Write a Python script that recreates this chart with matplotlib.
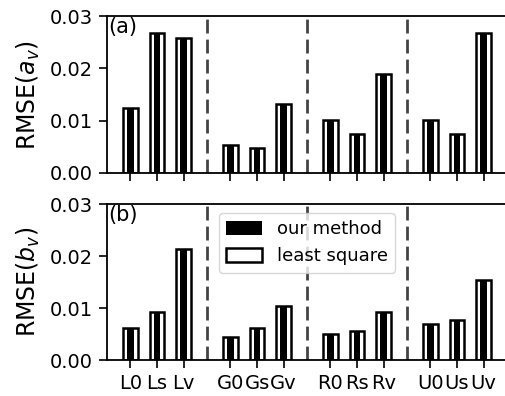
import numpy as np
import matplotlib
matplotlib.use("Agg")
import matplotlib.pyplot as plt

labels = ["L0", "Ls", "Lv", "G0", "Gs", "Gv", "R0", "Rs", "Rv", "U0", "Us", "Uv"]

# RMSE of a_v
a_ours = [0.0125, 0.0267, 0.0258, 0.0054, 0.0048, 0.0131, 0.0101, 0.0075, 0.0190, 0.0102, 0.0075, 0.0267]
a_ls = [0.0125, 0.0267, 0.0258, 0.0054, 0.0048, 0.0131, 0.0101, 0.0075, 0.0190, 0.0102, 0.0075, 0.0267]

# RMSE of b_v
b_ours = [0.0061, 0.0092, 0.0214, 0.0045, 0.0062, 0.0103, 0.0050, 0.0055, 0.0093, 0.0069, 0.0076, 0.0154]
b_ls = [0.0061, 0.0092, 0.0214, 0.0045, 0.0062, 0.0103, 0.0050, 0.0055, 0.0093, 0.0069, 0.0076, 0.0154]

# groups of three with a gap between them
x = np.array([g * 3.75 + k for g in range(4) for k in range(3)])
seps = [2.875, 6.625, 10.375]

fig = plt.figure(figsize=(5.05, 3.96), dpi=100)
W, H = 505, 396
ax1 = fig.add_axes([107 / W, (H - 173) / H, 400 / W, 157 / H])
ax2 = fig.add_axes([107 / W, (H - 360) / H, 400 / W, 156 / H])

for ax, ours, ls, name, tag in [(ax1, a_ours, a_ls, r"RMSE($a_v$)", "(a)"),
                                (ax2, b_ours, b_ls, r"RMSE($b_v$)", "(b)")]:
    ax.bar(x, ls, width=0.55, facecolor="white", edgecolor="black", linewidth=1.8,
           label="least square", zorder=2)
    ax.bar(x, ours, width=0.25, color="black", label="our method", zorder=3)
    for s in seps:
        ax.axvline(s, color="#444444", linestyle="--", linewidth=2, dashes=(5, 2.2), zorder=1)
    ax.set_xlim(-0.875, 14.125)
    ax.set_ylim(0, 0.03)
    ax.set_yticks([0.0, 0.01, 0.02, 0.03])
    ax.set_ylabel(name, fontsize=17, labelpad=6)
    ax.tick_params(labelsize=14, length=6, width=1.2, pad=4)
    ax.set_xticks(x)
    for sp in ax.spines.values():
        sp.set_linewidth(1.3)
    ax.text(0.003, 0.995, tag, transform=ax.transAxes, fontsize=15, va="top", ha="left")

ax1.set_xticklabels([])
ax2.set_xticklabels(labels)

h, l = ax2.get_legend_handles_labels()
ax2.legend(h[::-1], l[::-1], loc="upper center", fontsize=13, handleheight=0.85)

fig.savefig("out.png", dpi=100)
